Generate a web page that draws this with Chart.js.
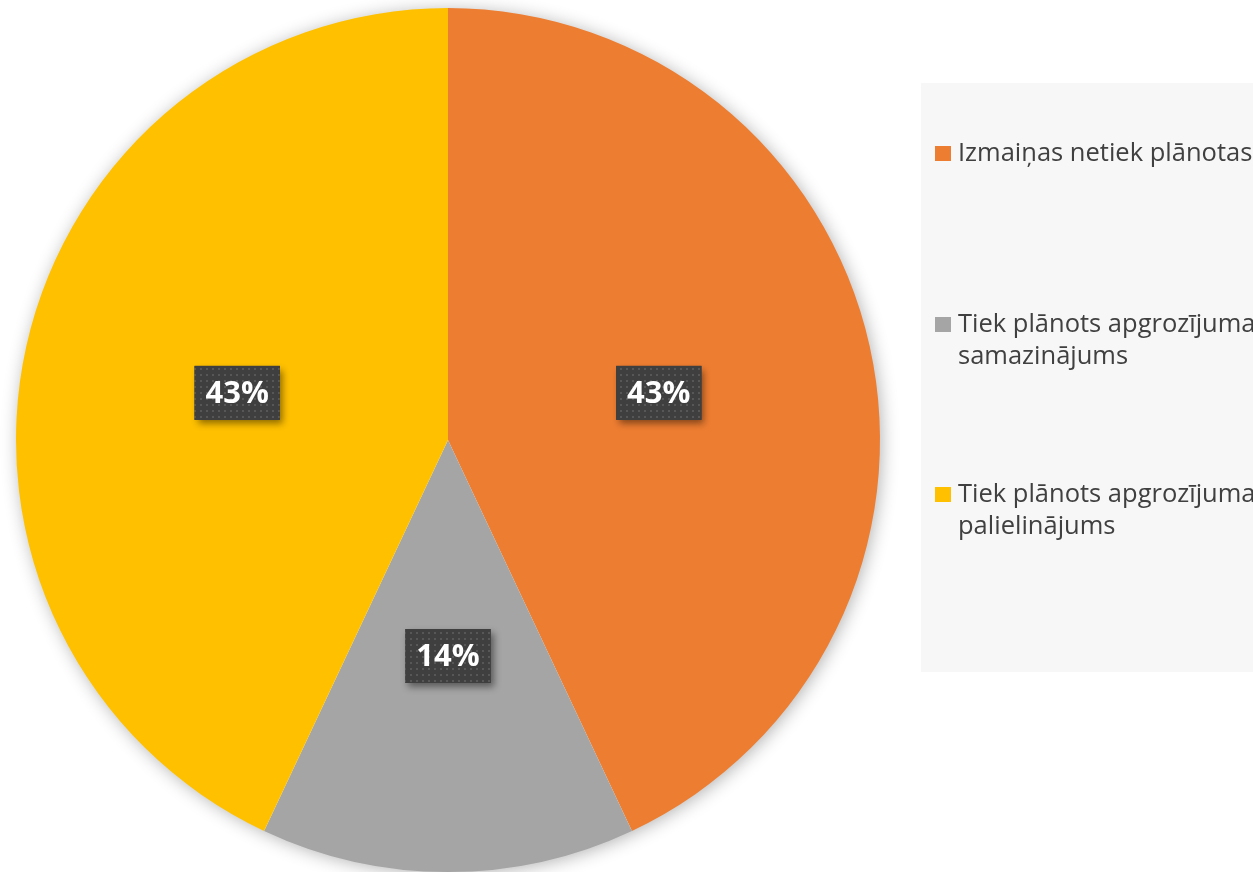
<!DOCTYPE html>
<html>
<head>
<meta charset="utf-8">
<script src="https://cdn.jsdelivr.net/npm/chart.js@4.4.1/dist/chart.umd.min.js"></script>
<style>
  html, body { margin: 0; padding: 0; background: #ffffff; }
  #wrap { width: 1253px; height: 872px; position: relative; }
</style>
</head>
<body>
<div id="wrap"><canvas id="chart"></canvas></div>
<script>
// chart data
const labels = [
  ["Izmaiņas netiek plānotas"],
  ["Tiek plānots apgrozījuma", "samazinājums"],
  ["Tiek plānots apgrozījuma", "palielinājums"]
];
const values = [43, 14, 43];
const colors = ["#ED7D31", "#A5A5A5", "#FFC000"];

// dotted fill for the label boxes
function makePattern(ctx) {
  const c = document.createElement("canvas");
  c.width = 6; c.height = 6;
  const p = c.getContext("2d");
  p.fillStyle = "#3f3f3f";
  p.fillRect(0, 0, 6, 6);
  p.fillStyle = "#575757";
  p.fillRect(2, 2, 2, 2);
  return ctx.createPattern(c, "repeat");
}

// soft glow behind the pie
const pieShadow = {
  id: "pieShadow",
  beforeDatasetsDraw(chart) {
    const arc = chart.getDatasetMeta(0).data[0];
    if (!arc) return;
    const ctx = chart.ctx;
    ctx.save();
    ctx.shadowColor = "rgba(0,0,0,0.32)";
    ctx.shadowBlur = 18;
    ctx.shadowOffsetX = 2;
    ctx.shadowOffsetY = 2;
    ctx.beginPath();
    ctx.arc(arc.x, arc.y, arc.outerRadius - 1, 0, Math.PI * 2);
    ctx.fillStyle = "#ffffff";
    ctx.fill();
    ctx.restore();
  }
};

// percentage boxes
const boxLabels = {
  id: "boxLabels",
  afterDatasetsDraw(chart) {
    const ctx = chart.ctx;
    const meta = chart.getDatasetMeta(0);
    const total = values.reduce((a, b) => a + b, 0);
    const pat = makePattern(ctx);
    ctx.save();
    ctx.font = "bold 31px 'Open Sans'";
    meta.data.forEach((arc, i) => {
      const pos = arc.tooltipPosition();
      const txt = Math.round(values[i] / total * 100) + "%";
      const w = ctx.measureText(txt).width + 22;
      const h = 54;
      const x = pos.x - w / 2, y = pos.y - h / 2;
      ctx.save();
      ctx.shadowColor = "rgba(0,0,0,0.45)";
      ctx.shadowBlur = 7;
      ctx.shadowOffsetX = 3;
      ctx.shadowOffsetY = 4;
      ctx.fillStyle = "#404040";
      ctx.fillRect(x, y, w, h);
      ctx.restore();
      ctx.fillStyle = pat;
      ctx.fillRect(x, y, w, h);
      ctx.fillStyle = "#ffffff";
      ctx.textAlign = "center";
      ctx.textBaseline = "middle";
      ctx.fillText(txt, pos.x, pos.y + 1);
    });
    ctx.restore();
  }
};

// legend panel on the right
const sideLegend = {
  id: "sideLegend",
  afterDraw(chart) {
    const ctx = chart.ctx;
    ctx.save();
    ctx.fillStyle = "#f7f7f7";
    ctx.fillRect(921, 83, 340, 589);
    const baselines = [161, 332, 502];
    ctx.font = "25.5px 'Open Sans'";
    ctx.textBaseline = "alphabetic";
    labels.forEach((lines, i) => {
      ctx.fillStyle = colors[i];
      ctx.fillRect(935, baselines[i] - 15, 16, 15);
      ctx.fillStyle = "#404040";
      lines.forEach((ln, j) => {
        ctx.fillText(ln, 958, baselines[i] + j * 32);
      });
    });
    ctx.restore();
  }
};

const ctx = document.getElementById("chart").getContext("2d");
const chart = new Chart(ctx, {
  type: "pie",
  data: {
    labels: labels.map(l => l.join(" ")),
    datasets: [{
      data: values,
      backgroundColor: colors,
      borderWidth: 0
    }]
  },
  options: {
    responsive: true,
    maintainAspectRatio: false,
    animation: false,
    layout: { padding: { left: 16, top: 8, right: 373, bottom: 0 } },
    plugins: {
      legend: { display: false },
      tooltip: { enabled: false }
    }
  },
  plugins: [pieShadow, boxLabels, sideLegend]
});
</script>
</body>
</html>
